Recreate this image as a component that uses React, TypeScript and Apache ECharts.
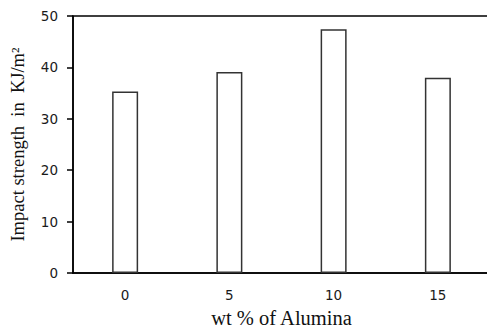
import React, { useEffect, useRef } from "react";
import * as echarts from "echarts";

const categories = ["0", "5", "10", "15"];
const impactStrength = [35.3, 39.1, 47.4, 38.0];
const yTicks = { min: 0, max: 50, interval: 10 };

export default function App() {
  const ref = useRef<HTMLDivElement>(null);
  useEffect(() => {
    if (!ref.current) return;
    const chart = echarts.init(ref.current, undefined, { renderer: "svg" });
    chart.setOption({
      animation: false,
      backgroundColor: "#fff",
      grid: {
        left: 73,
        top: 16,
        right: -3,
        bottom: 54,
        outerBoundsMode: "none",
        containLabel: false,
        show: true,
        borderColor: "#000",
        borderWidth: 1.5,
        backgroundColor: "transparent",
      },
      xAxis: {
        type: "category",
        data: categories,
        name: "wt % of Alumina",
        nameLocation: "middle",
        nameGap: 34,
        nameMoveOverlap: false,
        nameTextStyle: { fontFamily: "Liberation Serif", fontSize: 20.5, color: "#111" },
        axisLine: { lineStyle: { color: "#000", width: 1.5 } },
        axisTick: { show: false },
        axisLabel: { margin: 15, fontFamily: "DejaVu Sans", fontSize: 13.5, color: "#1a1a1a" },
      },
      yAxis: {
        type: "value",
        min: yTicks.min,
        max: yTicks.max,
        interval: yTicks.interval,
        name: "Impact strength  in  KJ/m²",
        nameLocation: "middle",
        nameGap: 46,
        nameMoveOverlap: false,
        nameTextStyle: { fontFamily: "Liberation Serif", fontSize: 18.5, color: "#111" },
        splitLine: { show: false },
        axisLine: { show: true, lineStyle: { color: "#000", width: 1.5 } },
        axisTick: { show: true, length: 6, lineStyle: { color: "#000", width: 1.5 } },
        axisLabel: { margin: 15, fontFamily: "DejaVu Sans", fontSize: 13.5, color: "#1a1a1a" },
      },
      series: [
        {
          type: "bar",
          data: impactStrength,
          barWidth: 26,
          itemStyle: { color: "#fff", borderColor: "#333", borderWidth: 1.5 },
        },
      ],
    });
    return () => chart.dispose();
  }, []);
  return <div ref={ref} style={{ width: 487, height: 327, position: "absolute", left: 0, top: 0 }} />;
}
